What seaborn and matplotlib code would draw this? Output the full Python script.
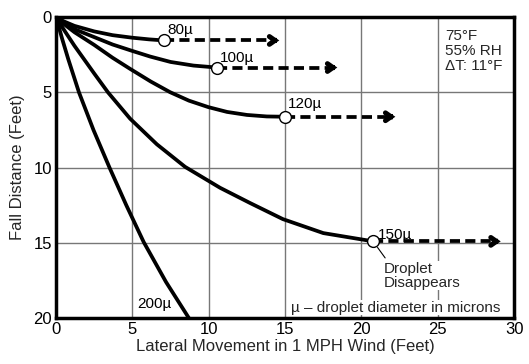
import matplotlib
matplotlib.use("Agg")

import pandas as pd
import matplotlib.pyplot as plt
import seaborn as sns

# droplet trajectories (lateral ft, fall ft)
x_80 = [0, 0.5, 1.2, 2.5, 3.7, 5.0, 6.1, 7.07]
y_80 = [0, 0.28, 0.58, 0.95, 1.2, 1.37, 1.48, 1.55]
x_100 = [0, 0.5, 1.2, 2.5, 3.7, 5.0, 6.16, 7.5, 9.0, 10.52]
y_100 = [0, 0.38, 0.8, 1.33, 1.82, 2.25, 2.62, 2.98, 3.22, 3.35]
x_120 = [0, 0.5, 1.2, 2.5, 3.7, 4.85, 6.2, 7.47, 8.7, 9.97, 11.2, 12.5, 13.8, 15.0]
y_120 = [0, 0.45, 1.0, 1.85, 2.7, 3.44, 4.28, 4.99, 5.55, 5.98, 6.3, 6.5, 6.6, 6.62]
x_150 = [0, 0.5, 1.2, 2.5, 3.4, 4.85, 6.6, 8.45, 10.74, 12.7, 14.85, 17.5, 20.78]
y_150 = [0, 0.82, 1.9, 3.75, 5.0, 6.75, 8.45, 9.95, 11.34, 12.35, 13.42, 14.35, 14.9]
x_200 = [0, 0.4, 0.8, 1.5, 2.45, 3.5, 4.6, 5.74, 7.2, 8.7]
y_200 = [0, 1.45, 2.8, 5.0, 7.5, 10.0, 12.5, 14.95, 17.6, 20.0]

sizes = ["80µ", "100µ", "120µ", "150µ", "200µ"]
xs = [x_80, x_100, x_120, x_150, x_200]
ys = [y_80, y_100, y_120, y_150, y_200]

# how far the dashed drift carries each droplet after it disappears
drift_end = [14.8, 18.6, 22.4, 29.3]

rows = []
for s, xx, yy in zip(sizes, xs, ys):
    for a, b in zip(xx, yy):
        rows.append({"size": s, "lateral": a, "fall": b})
df = pd.DataFrame(rows)

sns.set_style("white")
plt.rcParams["font.family"] = ["Liberation Sans", "DejaVu Sans"]

fig = plt.figure(figsize=(5.29, 3.64), dpi=100)
ax = fig.add_axes([0.106, 0.126, 0.866, 0.827])

sns.lineplot(data=df, x="lateral", y="fall", units="size", estimator=None,
             sort=False, color="black", linewidth=2.7, ax=ax, zorder=3)
for ln in ax.get_lines():
    ln.set_solid_joinstyle("round")
    ln.set_solid_capstyle("round")

for i in range(4):
    x0, y0 = xs[i][-1], ys[i][-1]
    ax.plot([x0, drift_end[i] - 0.4], [y0, y0], color="black", linewidth=2.7,
            linestyle=(0, (2.7, 1.4)), zorder=3)
    ax.annotate("", xy=(drift_end[i], y0), xytext=(drift_end[i] - 0.6, y0),
                arrowprops=dict(arrowstyle="->,head_length=0.4,head_width=0.28",
                                color="black", lw=3.6, joinstyle="miter"),
                zorder=4)
    ax.plot(x0, y0, marker="o", markersize=8.5, markerfacecolor="white",
            markeredgecolor="black", markeredgewidth=1.0, zorder=5)

ax.set_xlim(0, 30)
ax.set_ylim(20, 0)
ax.set_xticks([0, 5, 10, 15, 20, 25, 30])
ax.set_yticks([0, 5, 10, 15, 20])
ax.grid(True, color="#777777", linewidth=1.0)
ax.set_axisbelow(True)
for sp in ax.spines.values():
    sp.set_linewidth(2.5)
    sp.set_color("black")
ax.tick_params(length=0, labelsize=12, pad=3, colors="black")

ax.set_xlabel("Lateral Movement in 1 MPH Wind (Feet)", fontsize=12, labelpad=1)
ax.set_ylabel("Fall Distance (Feet)", fontsize=12, labelpad=6)

lbl = dict(fontsize=11, color="black", zorder=6)
ax.text(7.3, 0.85, "80µ", ha="left", va="center", **lbl)
ax.text(10.75, 2.7, "100µ", ha="left", va="center", **lbl)
ax.text(15.2, 5.8, "120µ", ha="left", va="center", **lbl)
ax.text(21.1, 14.5, "150µ", ha="left", va="center", **lbl)
ax.text(5.3, 19.05, "200µ", ha="left", va="center", **lbl)

ax.plot([21.05, 21.55], [15.3, 16.0], color="black", linewidth=0.8, zorder=5)
ax.text(21.45, 16.25, "Droplet\nDisappears", ha="left", va="top",
        fontsize=11, linespacing=1.0,
        bbox=dict(facecolor="white", edgecolor="none", pad=0.5), zorder=6)
ax.text(15.4, 19.3, "µ – droplet diameter in microns", ha="left", va="center",
        fontsize=11, bbox=dict(facecolor="white", edgecolor="none", pad=0.5),
        zorder=6)
ax.text(25.5, 0.8, "75°F\n55% RH\nΔT: 11°F", ha="left", va="top",
        fontsize=11, linespacing=1.1, zorder=6)

fig.savefig("out.png", dpi=100)
plt.close(fig)
